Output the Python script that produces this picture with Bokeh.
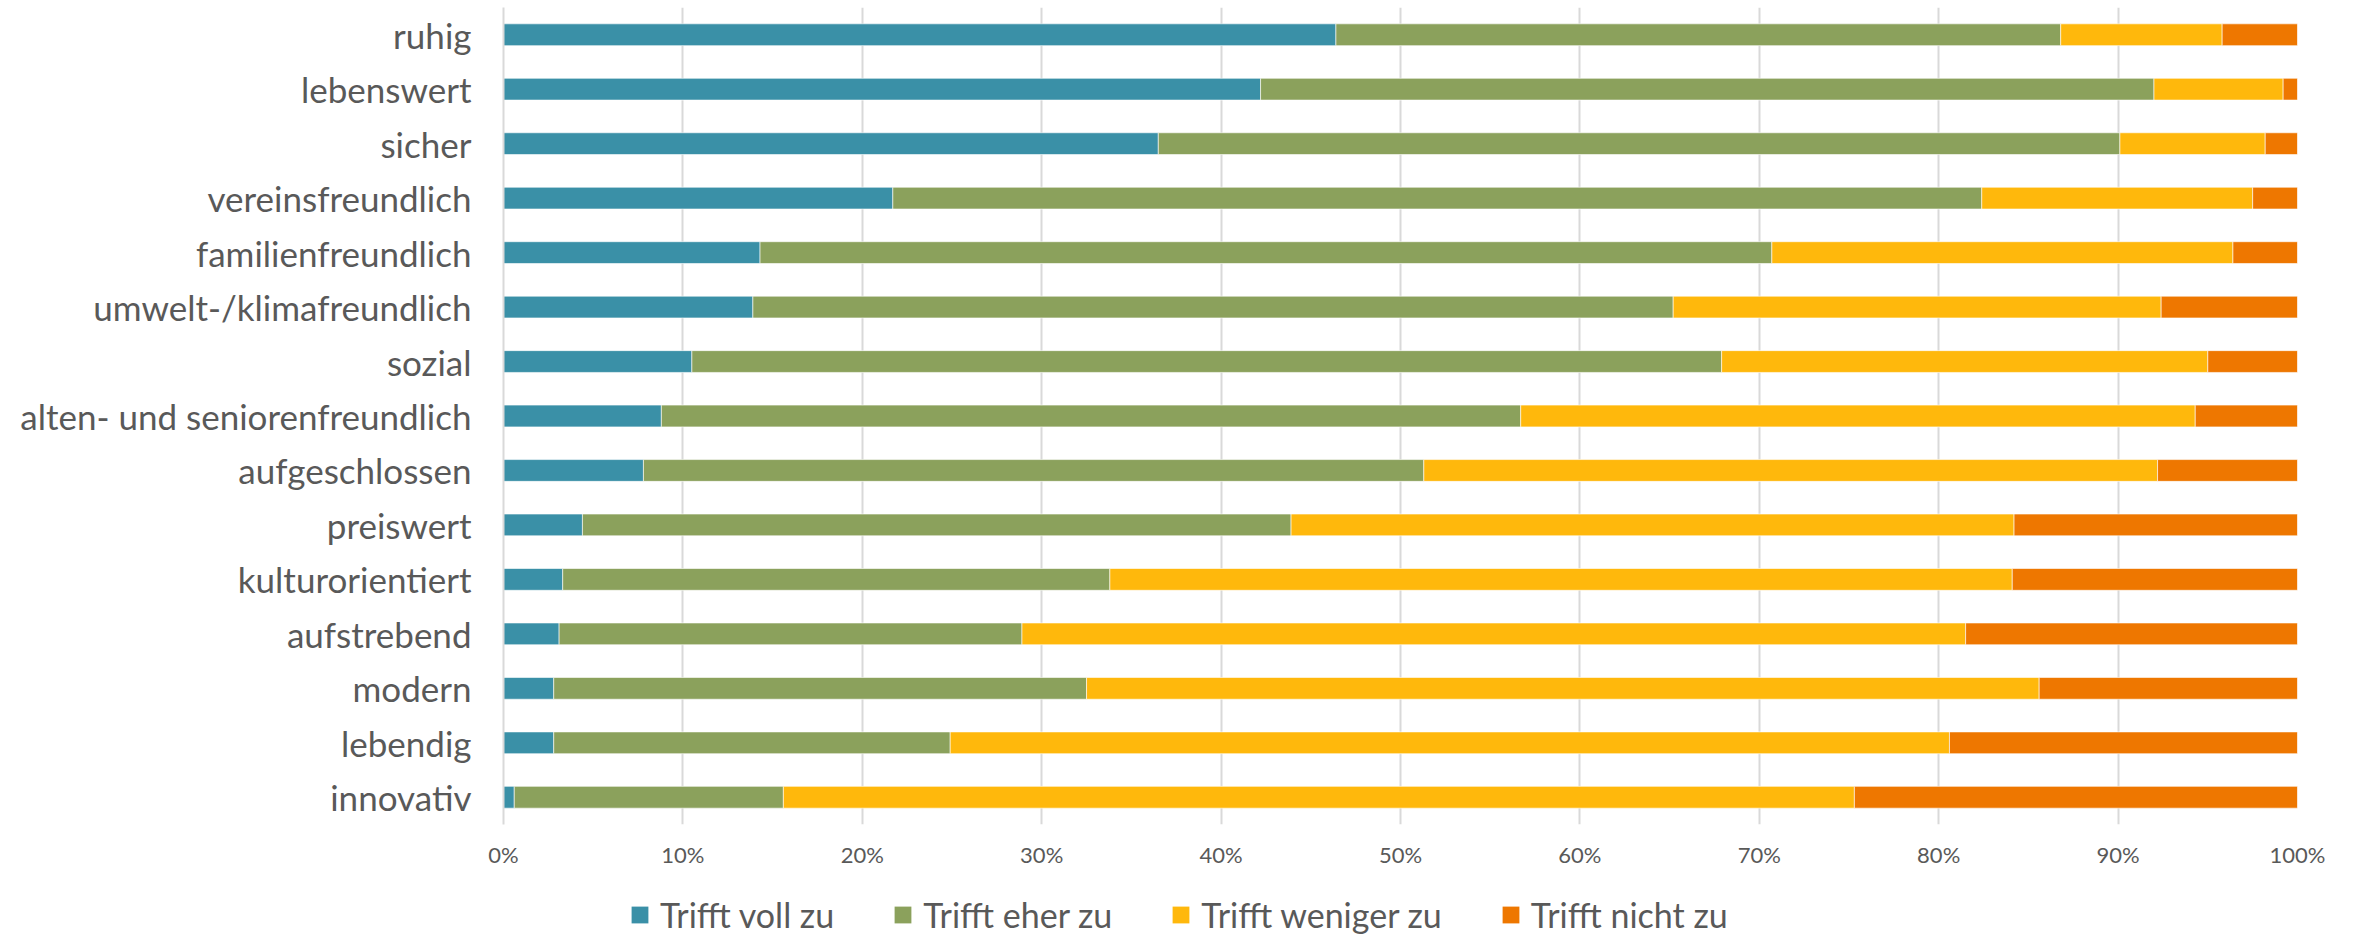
from bokeh.plotting import figure
from bokeh.models import ColumnDataSource, FixedTicker, NumeralTickFormatter, Range1d, Legend, LegendItem
from bokeh.layouts import column
from bokeh.embed import file_html
from bokeh.resources import INLINE

categories = ["ruhig", "lebenswert", "sicher", "vereinsfreundlich", "familienfreundlich",
              "umwelt-/klimafreundlich", "sozial", "alten- und seniorenfreundlich",
              "aufgeschlossen", "preiswert", "kulturorientiert", "aufstrebend",
              "modern", "lebendig", "innovativ"]

trifft_voll_zu = [46.4, 42.2, 36.5, 21.7, 14.3, 13.9, 10.5, 8.8, 7.8, 4.4, 3.3, 3.1, 2.8, 2.8, 0.6]
trifft_eher_zu = [40.4, 49.8, 53.6, 60.7, 56.4, 51.3, 57.4, 47.9, 43.5, 39.5, 30.5, 25.8, 29.7, 22.1, 15.0]
trifft_weniger_zu = [9.0, 7.2, 8.1, 15.1, 25.7, 27.2, 27.1, 37.6, 40.9, 40.3, 50.3, 52.6, 53.1, 55.7, 59.7]
trifft_nicht_zu = [4.2, 0.8, 1.8, 2.5, 3.6, 7.6, 5.0, 5.7, 7.8, 15.8, 15.9, 18.5, 14.4, 19.4, 24.7]

series_names = ["Trifft voll zu", "Trifft eher zu", "Trifft weniger zu", "Trifft nicht zu"]
colors = ["#3a90a7", "#8ba15c", "#ffb80c", "#ee7700"]
tick_values = [0, 0.1, 0.2, 0.3, 0.4, 0.5, 0.6, 0.7, 0.8, 0.9, 1.0]

keys = ["voll", "eher", "weniger", "nicht"]
raw = [trifft_voll_zu, trifft_eher_zu, trifft_weniger_zu, trifft_nicht_zu]
data = {"cat": categories}
for k in keys:
    data[k] = []
for i in range(len(categories)):
    tot = sum(r[i] for r in raw)
    for k, vals in zip(keys, raw):
        data[k].append(vals[i] / tot)
source = ColumnDataSource(data)

FONT = "Lato"
TXT = "#595959"

p = figure(width=2354, height=890, y_range=list(reversed(categories)),
           x_range=Range1d(0, 1), output_backend="svg", toolbar_location=None,
           min_border_left=503, min_border_right=57, min_border_top=7, min_border_bottom=66)
p.outline_line_color = None
p.background_fill_color = "white"
p.border_fill_color = "white"

renderers = p.hbar_stack(keys, y="cat", height=0.4, color=colors, source=source,
                         line_color="white", line_width=1, line_alpha=0.6)

p.y_range.range_padding = 0
p.xaxis.ticker = FixedTicker(ticks=tick_values)
p.xaxis.formatter = NumeralTickFormatter(format="0%")
p.xaxis.axis_line_color = None
p.xaxis.major_tick_line_color = None
p.xaxis.minor_tick_line_color = None
p.xaxis.major_tick_out = 0
p.xaxis.major_tick_in = 0
p.xaxis.major_label_standoff = 16
p.xaxis.major_label_text_font = FONT
p.xaxis.major_label_text_font_size = "22px"
p.xaxis.major_label_text_color = TXT

p.yaxis.axis_line_color = "#d9d9d9"
p.yaxis.axis_line_width = 2
p.yaxis.major_tick_line_color = None
p.yaxis.minor_tick_line_color = None
p.yaxis.major_tick_out = 0
p.yaxis.major_tick_in = 0
p.yaxis.major_label_standoff = 32
p.yaxis.major_label_text_font = FONT
p.yaxis.major_label_text_font_size = "35px"
p.yaxis.major_label_text_color = TXT

p.xgrid.grid_line_color = "#d9d9d9"
p.xgrid.grid_line_width = 2
p.ygrid.grid_line_color = None

# legend strip (its frame is aligned with the main plot's frame by the layout)
lg = figure(width=2354, height=47, x_range=Range1d(0, 1), y_range=Range1d(0, 1),
            output_backend="svg", toolbar_location=None,
            min_border_left=503, min_border_right=57, min_border_top=0, min_border_bottom=0)
lg.axis.visible = False
lg.grid.grid_line_color = None
lg.outline_line_color = None
lg.border_fill_color = "white"
nan = float("nan")
dummy = ColumnDataSource(dict(x=[nan], y=[nan]))
dummies = [lg.rect(x="x", y="y", width=0.1, height=0.1, fill_color=c, line_color=None, source=dummy)
           for c in colors]
items = [LegendItem(label=n, renderers=[r]) for n, r in zip(series_names, dummies)]
legend = Legend(items=items, orientation="horizontal", location=(126, 2),
                padding=0, margin=0, spacing=58, label_standoff=10,
                glyph_width=21, glyph_height=21,
                label_text_font=FONT, label_text_font_size="34px", label_text_color=TXT,
                border_line_alpha=0, background_fill_alpha=0)
lg.add_layout(legend, "center")

layout = column(p, lg, spacing=0)
open("out.html", "w").write(file_html(layout, INLINE))
